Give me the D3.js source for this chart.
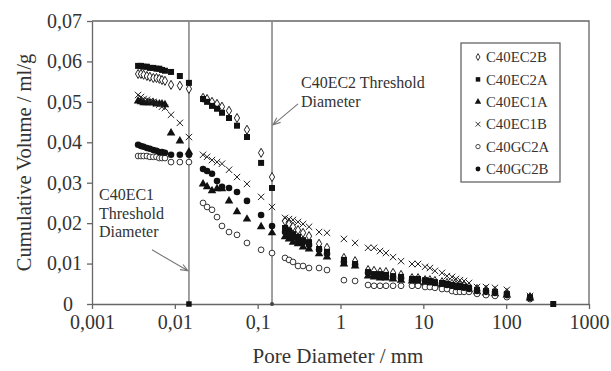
<!DOCTYPE html>
<html>
<head>
<meta charset="utf-8">
<script src="https://cdn.jsdelivr.net/npm/d3@7"></script>
<style>
  body { margin: 0; background: #fff; }
  svg { display: block; }
  text { font-family: "Liberation Serif", "Times New Roman", serif; fill: #333; }
</style>
</head>
<body>
<svg id="chart" width="611" height="371"></svg>
<script>
// pore diameters (shared by all samples)
const diameters = [0.0036, 0.0039, 0.0042, 0.0046, 0.005, 0.0055, 0.006, 0.0065, 0.007, 0.0076, 0.009, 0.0115, 0.0148,
  0.0219, 0.0245, 0.0281, 0.0323, 0.0371, 0.0451, 0.0563, 0.0743, 0.110, 0.149,
  0.214, 0.239, 0.267, 0.307, 0.353, 0.417, 0.551, 0.687, 1.10, 1.50, 2.15, 2.54, 3.00, 3.54, 4.31, 5.38,
  7.30, 8.63, 10.5, 12.0, 13.8, 16.8, 19.3, 22.2, 24.8, 27.7, 31.0, 35.6, 44.5, 57.1, 73.3, 102, 194, 370];

const seriesNames = ['C40EC2B', 'C40EC2A', 'C40EC1A', 'C40EC1B', 'C40GC2A', 'C40GC2B'];

const c40ec2b = [0.0569, 0.0569, 0.0567, 0.0564, 0.0562, 0.0559, 0.0559, 0.0557, 0.0554, 0.0552, 0.0542, 0.0540, 0.0532,
  0.0510, 0.0507, 0.0500, 0.0495, 0.0488, 0.0478, 0.0460, 0.0431, 0.0374, 0.0314,
  0.0205, 0.0198, 0.0191, 0.0183, 0.0176, 0.0168, 0.0149, 0.0139, 0.0114, 0.0106, 0.0084, 0.0082, 0.0079, 0.0079, 0.0077, 0.0072,
  0.0064, 0.0064, 0.0059, 0.0059, 0.0057, 0.0054, 0.0052, 0.0050, 0.0047, 0.0047, 0.0045, 0.0042, 0.0037, 0.0035, 0.0032, 0.0027, 0.0017, null];

const c40ec2a = [0.0589, 0.0589, 0.0587, 0.0587, 0.0584, 0.0584, 0.0582, 0.0582, 0.0579, 0.0577, 0.0574, 0.0564, 0.0547,
  0.0507, 0.0500, 0.0490, 0.0483, 0.0473, 0.0460, 0.0441, 0.0413, 0.0349, 0.0287,
  0.0188, 0.0181, 0.0173, 0.0166, 0.0158, 0.0153, 0.0136, 0.0129, 0.0109, 0.0099, 0.0079, 0.0074, 0.0074, 0.0072, 0.0069, 0.0067,
  0.0062, 0.0062, 0.0059, 0.0057, 0.0054, 0.0052, 0.0050, 0.0047, 0.0045, 0.0045, 0.0042, 0.0040, 0.0035, 0.0032, 0.0030, 0.0025, 0.0017, 0];

const c40ec1a = [0.0502, 0.0500, 0.0498, 0.0498, 0.0498, 0.0498, 0.0495, 0.0495, 0.0495, 0.0493, 0.0423, 0.0403, 0.0376,
  0.0297, 0.0290, 0.0280, 0.0285, 0.0285, 0.0255, 0.0228, 0.0210, 0.0191, 0.0176,
  0.0166, 0.0161, 0.0153, 0.0149, 0.0141, 0.0136, 0.0124, 0.0116, 0.0099, 0.0094, 0.0069, 0.0067, 0.0064, 0.0064, 0.0062, 0.0059,
  0.0057, 0.0054, 0.0052, 0.0052, 0.0050, 0.0047, 0.0045, 0.0042, 0.0040, 0.0040, 0.0037, 0.0035, 0.0030, 0.0027, 0.0025, 0.0022, 0.0015, null];

const c40ec1b = [0.0517, 0.0512, 0.0507, 0.0505, 0.0502, 0.0500, 0.0495, 0.0493, 0.0488, 0.0485, 0.0468, 0.0448, 0.0413,
  0.0369, 0.0364, 0.0356, 0.0351, 0.0347, 0.0332, 0.0314, 0.0297, 0.0265, 0.0240,
  0.0213, 0.0210, 0.0208, 0.0203, 0.0198, 0.0191, 0.0178, 0.0176, 0.0161, 0.0151, 0.0139, 0.0139, 0.0131, 0.0126, 0.0116, 0.0106,
  0.0099, 0.0099, 0.0092, 0.0089, 0.0082, 0.0077, 0.0069, 0.0067, 0.0062, 0.0059, 0.0057, 0.0052, 0.0042, 0.0042, 0.0040, 0.0035, 0.0020, null];

const c40gc2a = [0.0366, 0.0366, 0.0366, 0.0366, 0.0364, 0.0364, 0.0364, 0.0361, 0.0361, 0.0361, 0.0351, 0.0351, 0.0351,
  0.0250, 0.0240, 0.0233, 0.0215, 0.0193, 0.0178, 0.0171, 0.0151, 0.0134, 0.0126,
  0.0114, 0.0109, 0.0104, 0.0094, 0.0094, 0.0089, 0.0089, 0.0084, 0.0059, 0.0057, 0.0047, 0.0045, 0.0045, 0.0045, 0.0045, 0.0045,
  0.0045, 0.0045, 0.0042, 0.0042, 0.0040, 0.0037, 0.0037, 0.0032, 0.0030, 0.0030, 0.0030, 0.0030, 0.0025, 0.0022, 0.0020, 0.0017, 0.0012, null];

const c40gc2b = [0.0394, 0.0391, 0.0389, 0.0386, 0.0384, 0.0381, 0.0379, 0.0376, 0.0376, 0.0374, 0.0369, 0.0369, 0.0369,
  0.0334, 0.0329, 0.0322, 0.0304, 0.0290, 0.0287, 0.0277, 0.0255, 0.0220, 0.0193,
  0.0178, 0.0171, 0.0166, 0.0158, 0.0153, 0.0146, 0.0134, 0.0124, 0.0104, 0.0097, 0.0077, 0.0072, 0.0069, 0.0069, 0.0067, 0.0064,
  0.0059, 0.0059, 0.0057, 0.0054, 0.0052, 0.0050, 0.0047, 0.0045, 0.0042, 0.0042, 0.0040, 0.0037, 0.0032, 0.0030, 0.0027, 0.0022, 0.0015, null];

const seriesValues = [c40ec2b, c40ec2a, c40ec1a, c40ec1b, c40gc2a, c40gc2b];

// threshold diameters (EC1, EC2)
const thresholds = [0.0148, 0.149];

const xTicks = [0.001, 0.01, 0.1, 1, 10, 100, 1000];
const yTicks = [0, 0.01, 0.02, 0.03, 0.04, 0.05, 0.06, 0.07];

const svg = d3.select('#chart');
const m = {left: 92, right: 589, top: 21, bottom: 304};

const x = d3.scaleLog().domain([0.001, 1000]).range([m.left, m.right]);
const y = d3.scaleLinear().domain([0, 0.07]).range([m.bottom, m.top]);
const fmt = d => String(d).replace('.', ',');

// axes
const xAxis = svg.append('g')
  .attr('transform', `translate(0,${m.bottom})`)
  .call(d3.axisBottom(x).tickValues(xTicks).tickFormat(fmt).tickSize(5).tickSizeOuter(0).tickPadding(6));
const yAxis = svg.append('g')
  .attr('transform', `translate(${m.left},0)`)
  .call(d3.axisLeft(y).tickValues(yTicks).tickFormat(fmt).tickSize(5).tickSizeOuter(0).tickPadding(5));

[xAxis, yAxis].forEach(g => {
  g.selectAll('path.domain').attr('stroke', '#666').attr('stroke-width', 1.3);
  g.selectAll('.tick line').attr('stroke', '#666').attr('stroke-width', 1.3);
  g.selectAll('.tick text').attr('font-size', '20px').attr('fill', '#333')
    .attr('font-family', '"Liberation Serif", serif');
});
// the "0" label sits further left, clear of "0,001"
yAxis.selectAll('.tick text').filter(d => d === 0).attr('x', -19);

// frame top and right
svg.append('path')
  .attr('d', `M${m.left},${m.top}H${m.right}V${m.bottom}`)
  .attr('fill', 'none').attr('stroke', '#666').attr('stroke-width', 1.3);

// threshold lines
svg.selectAll('.thr')
  .data(thresholds)
  .enter()
  .append('line')
  .attr('x1', d => x(d)).attr('x2', d => x(d))
  .attr('y1', y(0)).attr('y2', y(0.07))
  .attr('stroke', '#888').attr('stroke-width', 1.6);

// markers
const crossPath = s => `M${-s},${-s}L${s},${s}M${-s},${s}L${s},${-s}`;
const markerStyle = {
  C40EC2B: {path: s => d3.symbol(d3.symbolDiamond, 24 * s * s)(), fill: '#fff', stroke: '#222'},
  C40EC2A: {path: s => d3.symbol(d3.symbolSquare, 36 * s * s)(), fill: '#111', stroke: 'none'},
  C40EC1A: {path: s => d3.symbol(d3.symbolTriangle, 32 * s * s)(), fill: '#111', stroke: 'none'},
  C40EC1B: {path: s => crossPath(3.2 * s), fill: 'none', stroke: '#222'},
  C40GC2A: {path: s => d3.symbol(d3.symbolCircle, 26 * s * s)(), fill: '#fff', stroke: '#333'},
  C40GC2B: {path: s => d3.symbol(d3.symbolCircle, 34 * s * s)(), fill: '#111', stroke: 'none'}
};

seriesNames.forEach((name, i) => {
  const st = markerStyle[name];
  const pts = diameters.map((d, j) => ({d: d, v: seriesValues[i][j]})).filter(p => p.v !== null);
  svg.append('g')
    .attr('class', 'series')
    .selectAll('path')
    .data(pts)
    .enter()
    .append('path')
    .attr('d', st.path(1))
    .attr('transform', p => `translate(${x(p.d)},${y(p.v)})`)
    .attr('fill', st.fill)
    .attr('stroke', st.stroke)
    .attr('stroke-width', 1);
});

// threshold markers on the x axis
svg.append('path')
  .attr('d', d3.symbol(d3.symbolSquare, 30)())
  .attr('transform', `translate(${x(thresholds[0])},${y(0)})`)
  .attr('fill', '#111');
svg.append('circle')
  .attr('cx', x(thresholds[1])).attr('cy', y(0)).attr('r', 2)
  .attr('fill', '#444');

// legend
const legend = svg.append('g');
legend.append('rect')
  .attr('x', 461).attr('y', 43).attr('width', 99).attr('height', 139)
  .attr('fill', '#fff').attr('stroke', '#666').attr('stroke-width', 1.3);
seriesNames.forEach((name, i) => {
  const st = markerStyle[name];
  const yy = 57 + i * 22.4;
  legend.append('path')
    .attr('d', st.path(0.75))
    .attr('transform', `translate(478,${yy})`)
    .attr('fill', st.fill).attr('stroke', st.stroke).attr('stroke-width', 0.9);
  legend.append('text')
    .attr('x', 486).attr('y', yy).attr('dy', '0.35em')
    .attr('font-size', '14.8px')
    .text(name);
});

// annotations
const annot = svg.append('g').attr('font-size', '16px');
const ec2 = annot.append('text').attr('x', 301).attr('y', 88);
ec2.append('tspan').text('C40EC2 Threshold');
ec2.append('tspan').attr('x', 301).attr('y', 107).text('Diameter');
const ec1 = annot.append('text').attr('x', 99).attr('y', 200);
ec1.append('tspan').text('C40EC1');
ec1.append('tspan').attr('x', 99).attr('y', 219).text('Threshold');
ec1.append('tspan').attr('x', 99).attr('y', 237).text('Diameter');

function arrow(x1, y1, x2, y2) {
  const a = Math.atan2(y2 - y1, x2 - x1);
  const L = 8, w = 0.38;
  svg.append('path')
    .attr('d', `M${x1},${y1}L${x2},${y2}` +
      `M${x2 - L * Math.cos(a - w)},${y2 - L * Math.sin(a - w)}L${x2},${y2}` +
      `L${x2 - L * Math.cos(a + w)},${y2 - L * Math.sin(a + w)}`)
    .attr('fill', 'none').attr('stroke', '#777').attr('stroke-width', 1.1);
}
arrow(x(0.0053), y(0.0134), x(thresholds[0]) - 1, y(0.0082));
arrow(x(0.307), y(0.0495), x(thresholds[1]) + 1, y(0.0443));

// axis titles
svg.append('text')
  .attr('transform', `translate(24,${(m.top + m.bottom) / 2}) rotate(-90)`)
  .attr('text-anchor', 'middle').attr('dy', '0.35em')
  .attr('font-size', '20.5px')
  .text('Cumulative Volume / ml/g');
svg.append('text')
  .attr('x', 338).attr('y', 363)
  .attr('text-anchor', 'middle')
  .attr('font-size', '21px')
  .text('Pore Diameter / mm');
</script>
</body>
</html>
